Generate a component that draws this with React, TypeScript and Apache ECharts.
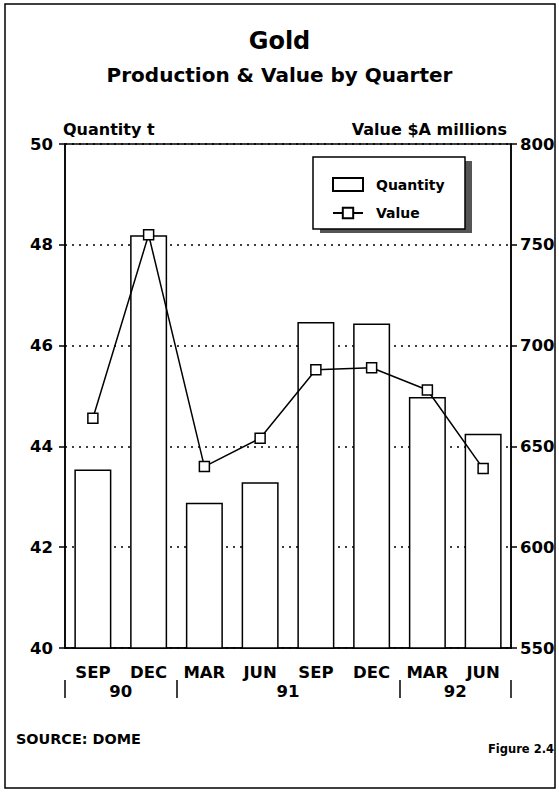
import React, { useEffect, useRef } from "react";
import * as echarts from "echarts";

const categories = ["SEP", "DEC", "MAR", "JUN", "SEP", "DEC", "MAR", "JUN"];
const quantity = [43.54, 48.19, 42.88, 43.29, 46.47, 46.44, 44.98, 44.25];
const value = [664, 755, 640, 654, 688, 689, 678, 639];
const yearLabels = ["90", "91", "92"];
const yearLabelPositions = [1, 4, 7];
const yearSeparators = [0, 2, 6, 8];

const FONT = "'DejaVu Sans', 'Liberation Sans', sans-serif";

export default function App() {
  const ref = useRef<HTMLDivElement>(null);
  useEffect(() => {
    if (!ref.current) return;
    const chart = echarts.init(ref.current, null, { renderer: "svg" });
    const txt = { color: "#000", fontFamily: FONT, fontWeight: "bold" as const };
    const black = { color: "#000", width: 1.5 };
    chart.setOption({
      animation: false,
      backgroundColor: "#fff",
      title: {
        text: "Gold",
        subtext: "Production & Value by Quarter",
        left: "center",
        top: 24,
        itemGap: 12,
        textStyle: { ...txt, fontSize: 24 },
        subtextStyle: { ...txt, fontSize: 20 },
      },
      legend: {
        orient: "vertical",
        left: 327,
        top: 172,
        itemWidth: 30,
        itemHeight: 13,
        itemGap: 14,
        data: [
          { name: "Quantity", icon: "rect" },
          { name: "Value" },
        ],
        textStyle: { ...txt, fontSize: 14, padding: [0, 0, 0, 8] },
        z: 10,
      },
      grid: {
        left: 65,
        right: 48,
        top: 144,
        bottom: 149,
        show: true,
        borderColor: "#000",
        borderWidth: 1.5,
      },
      xAxis: [
        {
          type: "category",
          data: categories,
          axisLine: { lineStyle: black },
          axisTick: { alignWithLabel: true, length: 7, lineStyle: black },
          axisLabel: { ...txt, fontSize: 16.5, margin: 16, interval: 0 },
        },
        {
          type: "value",
          position: "bottom",
          offset: 32,
          min: 0,
          max: 8,
          axisLine: { show: false },
          splitLine: { show: false },
          axisTick: {
            show: true,
            customValues: yearSeparators,
            length: 18,
            lineStyle: black,
          },
          axisLabel: {
            ...txt,
            fontSize: 16.5,
            margin: 3,
            customValues: yearLabelPositions,
            formatter: (v: number) => yearLabels[yearLabelPositions.indexOf(Math.round(v))] ?? "",
          },
        },
      ],
      yAxis: [
        {
          type: "value",
          name: "Quantity t",
          nameLocation: "end",
          nameGap: 7,
          nameTextStyle: { ...txt, fontSize: 16, align: "left", padding: [0, 0, 0, -2] },
          min: 40,
          max: 50,
          interval: 2,
          axisLine: { show: true, lineStyle: black },
          axisTick: { show: true, length: 6, lineStyle: black },
          axisLabel: { ...txt, fontSize: 16.5, margin: 12 },
          splitLine: { show: true, lineStyle: { color: "#000", width: 1.5, type: [2, 5] } },
        },
        {
          type: "value",
          name: "Value $A millions",
          nameLocation: "end",
          nameGap: 7,
          nameTextStyle: { ...txt, fontSize: 16, align: "right", padding: [0, 4, 0, 0] },
          min: 550,
          max: 800,
          interval: 50,
          position: "right",
          axisLine: { show: true, lineStyle: black },
          axisTick: { show: true, length: 6, lineStyle: black },
          axisLabel: { ...txt, fontSize: 16.5, margin: 9 },
          splitLine: { show: false },
        },
      ],
      series: [
        {
          name: "Quantity",
          type: "bar",
          xAxisIndex: 0,
          yAxisIndex: 0,
          data: quantity,
          barWidth: 37,
          itemStyle: { color: "#fff", borderColor: "#000", borderWidth: 1.5 },
          z: 2,
        },
        {
          name: "Value",
          type: "line",
          xAxisIndex: 0,
          yAxisIndex: 1,
          data: value,
          symbol: "rect",
          symbolSize: 10,
          lineStyle: { color: "#000", width: 1.5 },
          itemStyle: { color: "#fff", borderColor: "#000", borderWidth: 1.5 },
          z: 3,
        },
      ],
      graphic: [
        {
          type: "rect",
          shape: { x: 5, y: 4, width: 550, height: 784 },
          style: { fill: "none", stroke: "#000", lineWidth: 1.5 },
          z: 1,
          silent: true,
        },
        {
          type: "rect",
          shape: { x: 320, y: 161, width: 152, height: 72 },
          style: { fill: "#555", stroke: "none" },
          z: 5,
          silent: true,
        },
        {
          type: "rect",
          shape: { x: 313, y: 157, width: 152, height: 72 },
          style: { fill: "#fff", stroke: "#000", lineWidth: 1.5 },
          z: 6,
          silent: true,
        },
        {
          type: "text",
          left: 16,
          top: 732,
          style: { text: "SOURCE: DOME", fill: "#000", font: `bold 14.4px ${FONT}` },
          z: 10,
        },
        {
          type: "text",
          right: 5,
          top: 743,
          style: { text: "Figure 2.4", fill: "#000", font: `bold 11.5px ${FONT}` },
          z: 10,
        },
      ],
    });
    return () => chart.dispose();
  }, []);
  return (
    <div
      ref={ref}
      style={{ position: "fixed", left: 0, top: 0, width: 559, height: 797 }}
    />
  );
}
